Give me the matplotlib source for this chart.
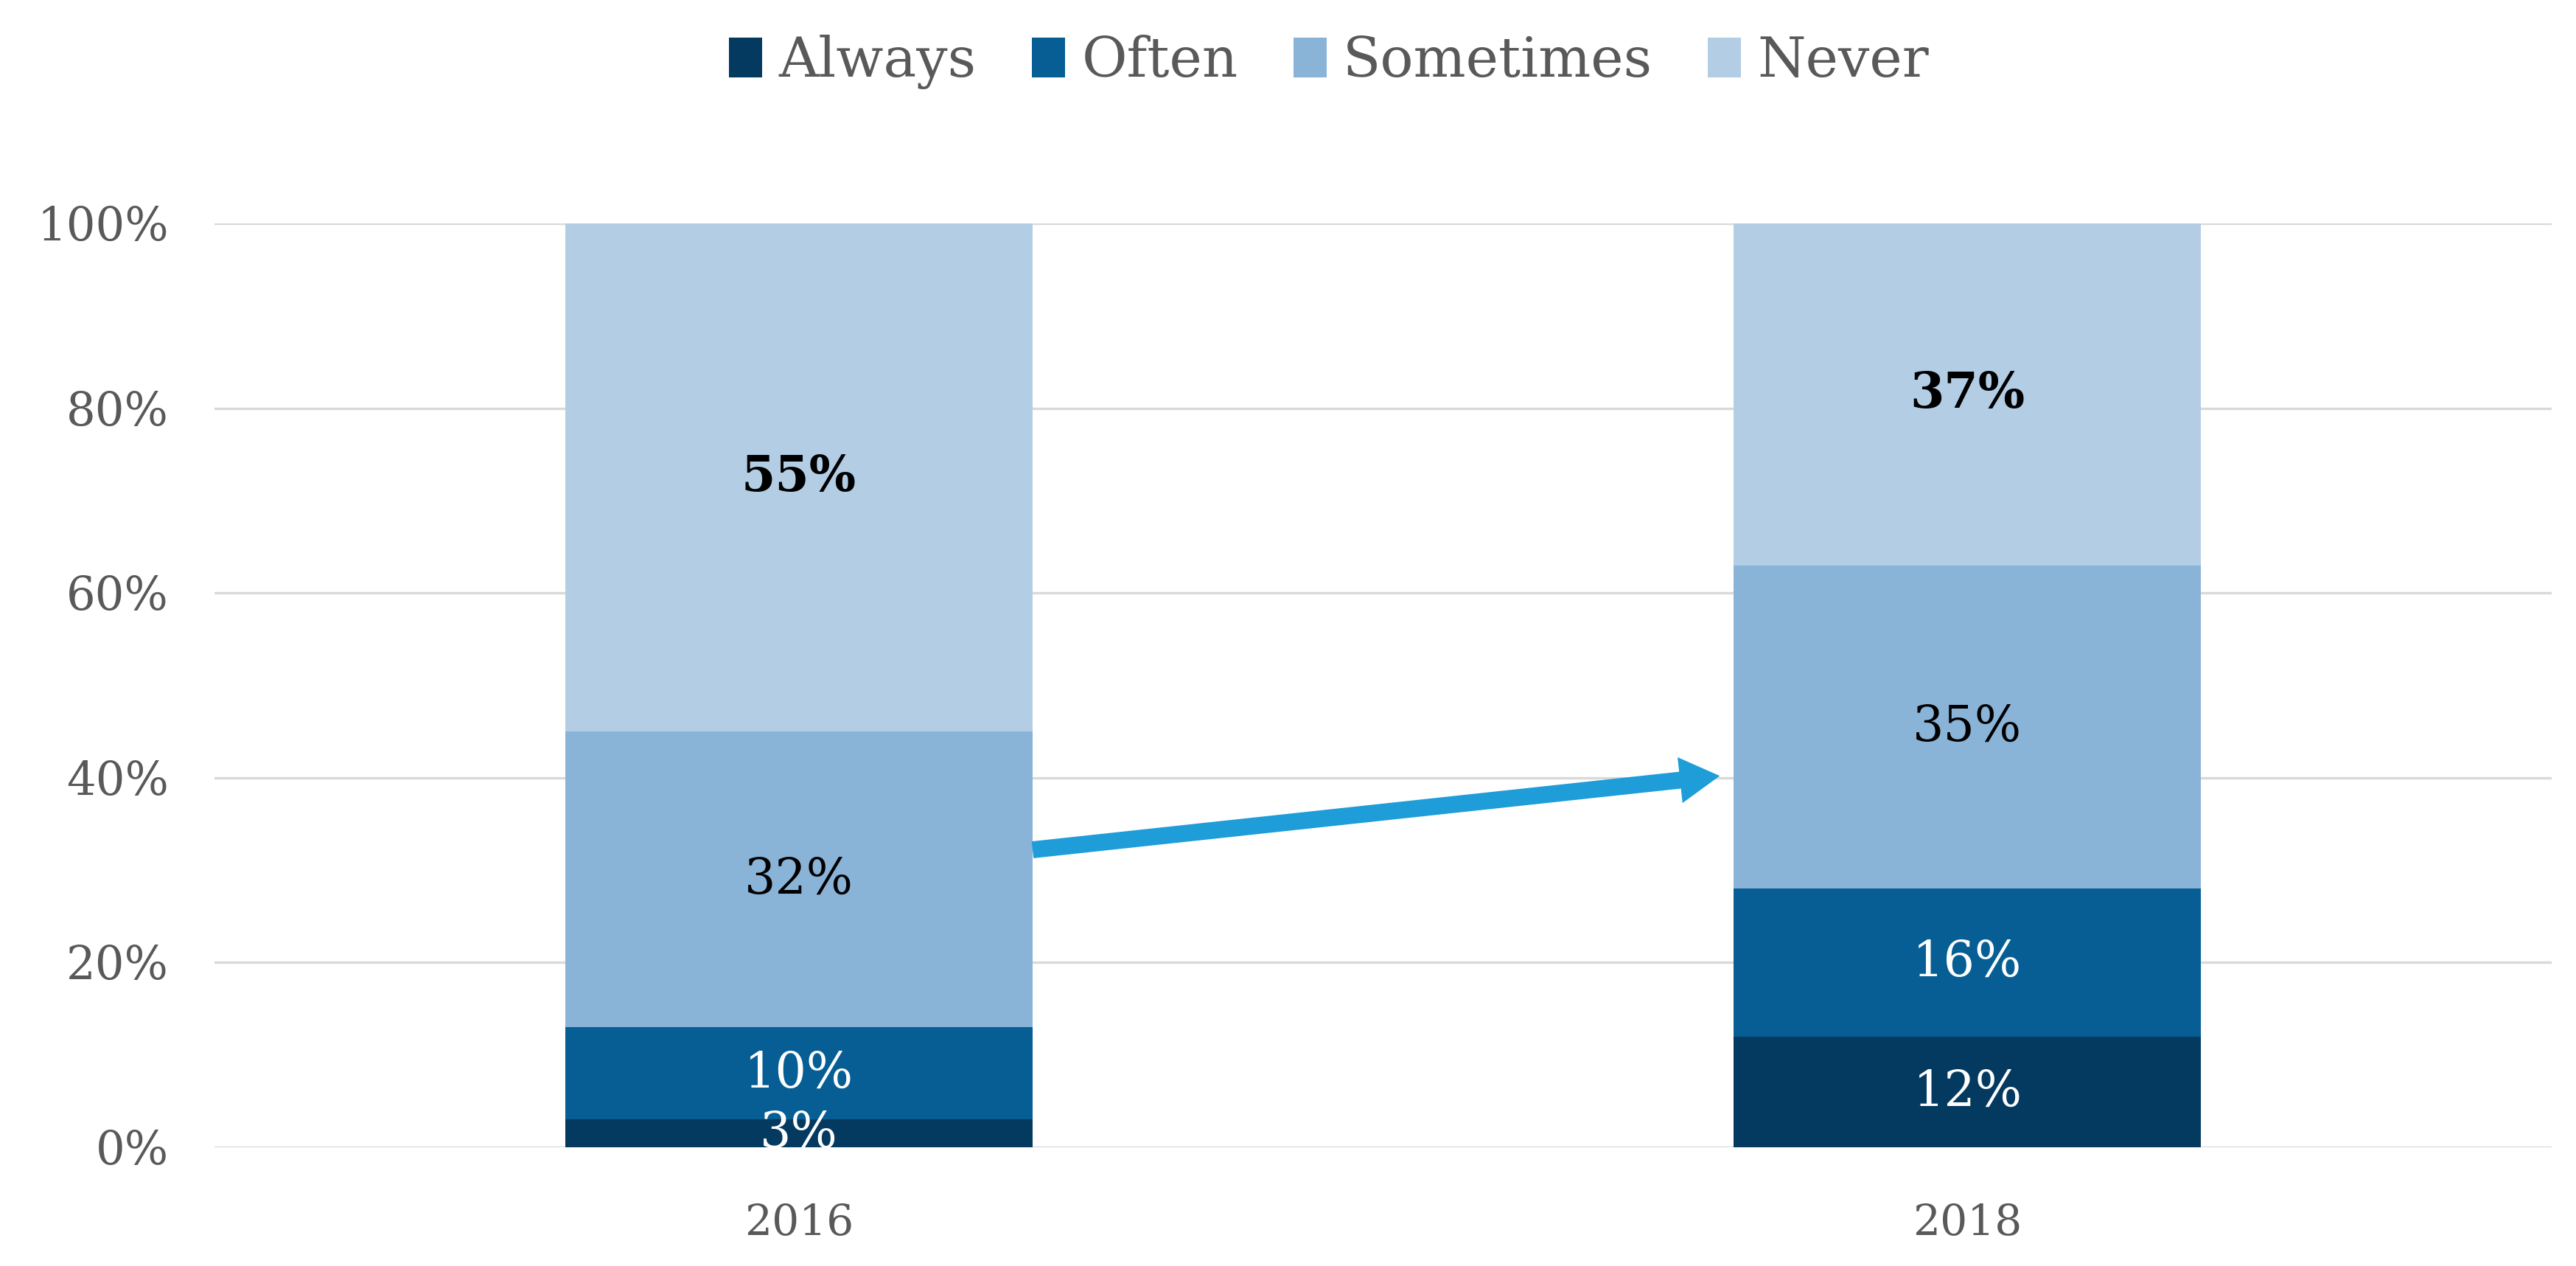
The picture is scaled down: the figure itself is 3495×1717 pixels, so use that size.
import numpy as np
import matplotlib
matplotlib.use('Agg')
from matplotlib import pyplot as plt

years = ['2016', '2018']
series = ['Always', 'Often', 'Sometimes', 'Never']
always = [3, 12]
often = [10, 16]
sometimes = [32, 35]
never = [55, 37]
colors = ['#043A60', '#065E94', '#8AB3D8', '#B3CDE5']
label_colors = ['white', 'white', 'black', 'black']
label_weights = ['normal', 'normal', 'normal', 'bold']

plt.rcParams['font.family'] = ['DejaVu Serif']

fig = plt.figure(figsize=(3495 / 300, 1717 / 300), dpi=300)
ax = fig.add_axes([0.0833, 0.0938, 0.9073, 0.7297])

x = np.arange(len(years))
bottom = np.zeros(len(years))
for vals, name, c, lc, lw in zip([always, often, sometimes, never], series, colors,
                                 label_colors, label_weights):
    vals = np.array(vals, dtype=float) / 100
    ax.bar(x, vals, 0.4, bottom=bottom, color=c, label=name, zorder=3)
    for xi, v, b in zip(x, vals, bottom):
        ax.text(xi, b + v / 2, '%d%%' % round(v * 100), ha='center', va='center',
                color=lc, fontsize=16, fontweight=lw, zorder=5)
    bottom += vals

# arrow between the bars
ax.annotate('', xy=(0.788, 0.402), xytext=(0.2, 0.322),
            arrowprops=dict(width=5.5, headwidth=15, headlength=13, color='#1E9DD8',
                            shrink=0, lw=0), zorder=4)

ax.set_xlim(-0.5, 1.5)
ax.set_ylim(0, 1)
ax.set_yticks(np.arange(0, 1.01, 0.2))
ax.set_yticklabels(['%d%%' % v for v in range(0, 101, 20)])
ax.set_xticks(x)
ax.set_xticklabels(years)
ax.tick_params(axis='y', length=0, pad=15, labelsize=15, labelcolor='#595959')
ax.tick_params(axis='x', length=0, pad=18, labelsize=14, labelcolor='#595959')
ax.yaxis.grid(True, color='#D9D9D9', lw=0.8, zorder=0)
for s in ax.spines.values():
    s.set_visible(False)

fig.legend(loc='center', bbox_to_anchor=(0.516, 0.951), ncol=4, frameon=False,
           fontsize=18, handlelength=0.6, handleheight=0.75, handletextpad=0.3,
           columnspacing=1.0, labelcolor='#595959')

fig.savefig('out.png', dpi=300)
